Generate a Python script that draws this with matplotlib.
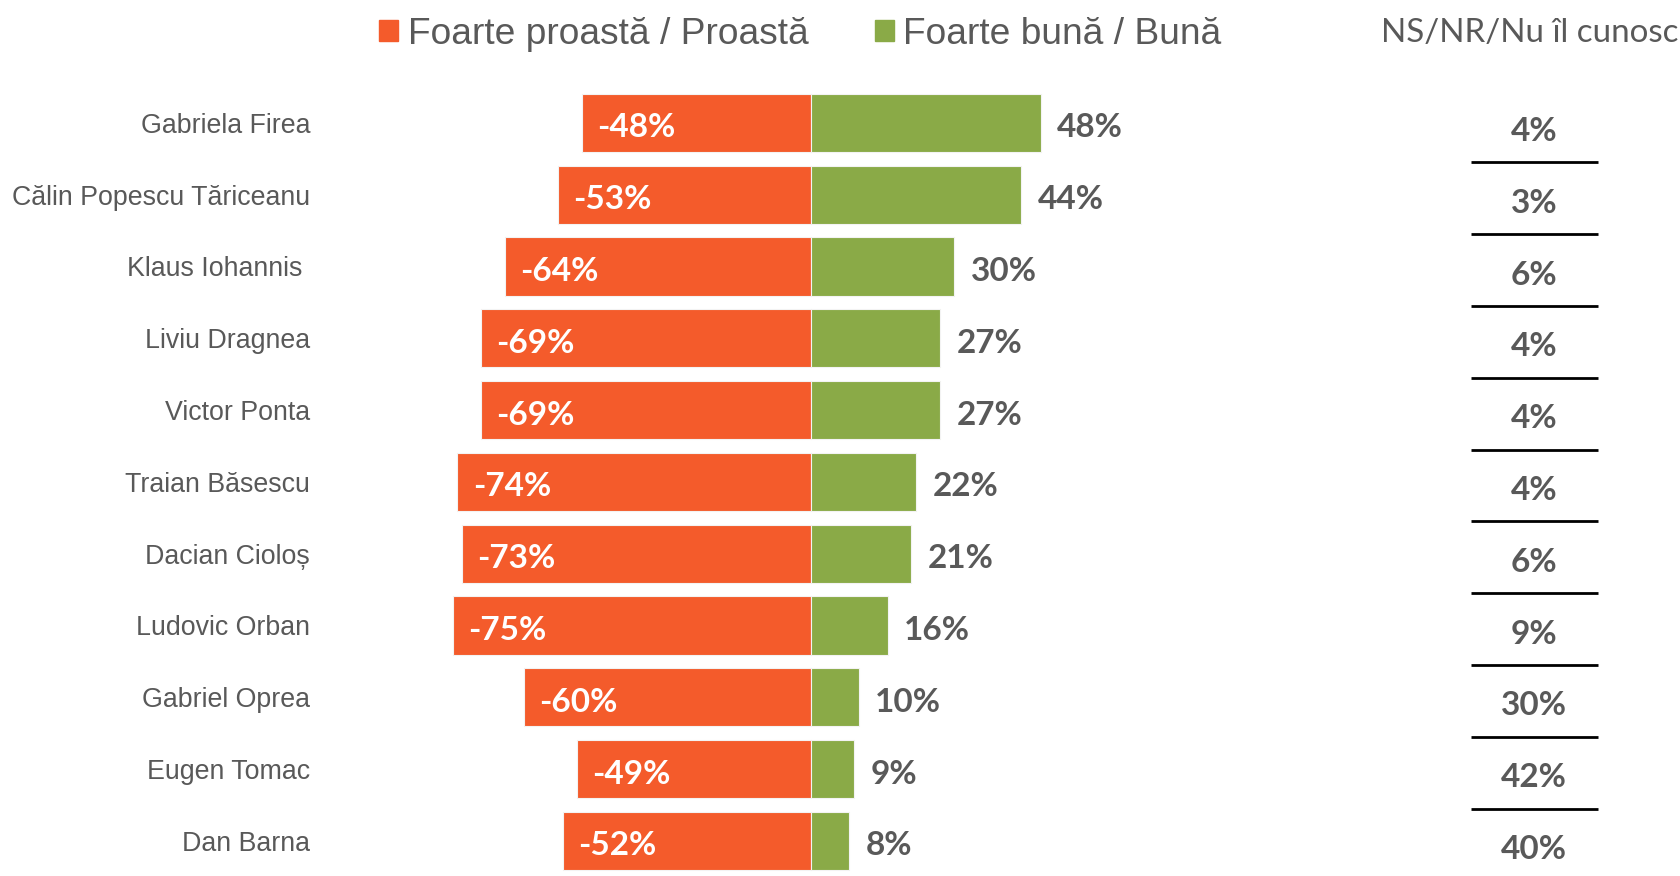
import matplotlib.pyplot as plt
from matplotlib.patches import Patch

names = ["Gabriela Firea", "Călin Popescu Tăriceanu", "Klaus Iohannis ", "Liviu Dragnea",
         "Victor Ponta", "Traian Băsescu", "Dacian Cioloș", "Ludovic Orban",
         "Gabriel Oprea", "Eugen Tomac", "Dan Barna"]
bad = [48, 53, 64, 69, 69, 74, 73, 75, 60, 49, 52]     # Foarte proastă / Proastă
good = [48, 44, 30, 27, 27, 22, 21, 16, 10, 9, 8]      # Foarte bună / Bună
ns = [4, 3, 6, 4, 4, 4, 6, 9, 30, 42, 40]              # NS/NR/Nu îl cunosc

orange = "#F45B2B"
green = "#8AAA47"
gray = "#595959"

fig = plt.figure(figsize=(16.81, 8.76), dpi=100)
ax = fig.add_axes([0, 0, 1, 1 - 87 / 876])

y = list(range(len(names)))
ax.barh(y, [-v for v in bad], height=0.81, color=orange, edgecolor="#f3f3f3", linewidth=0.8)
ax.barh(y, good, height=0.81, color=green, edgecolor="#f3f3f3", linewidth=0.8)

ax.set_xlim(-169.7, 182.0)
ax.set_ylim(10.49, -0.5)
ax.axis("off")

ytr = ax.get_yaxis_transform()
for i in y:
    # nume
    ax.text(0.1845, i + 0.04, names[i], transform=ytr, ha="right", va="center",
            fontsize=19.3, color=gray, family="Liberation Sans")
    # etichete bare
    ax.text(-bad[i] + 3.2, i + 0.07, f"-{bad[i]}%", ha="left", va="center",
            fontsize=24, fontweight="bold", color="white", family="Lato")
    ax.text(good[i] + 3.4, i + 0.07, f"{good[i]}%", ha="left", va="center",
            fontsize=24, fontweight="bold", color=gray, family="Lato")
    # coloana NS/NR
    ax.text(0.9125, i + 0.12, f"{ns[i]}%", transform=ytr, ha="center", va="center",
            fontsize=24, fontweight="bold", color=gray, family="Lato")
    if i < len(names) - 1:
        ax.hlines(i + 0.55, 0.875, 0.9506, transform=ytr, color="black", linewidth=2)

fig.text(1381 / 1681, 1 - 33 / 876, "NS/NR/Nu îl cunosc", ha="left", va="center",
         fontsize=23.9, color=gray, family="Lato")

handles = [Patch(color=orange), Patch(color=green)]
fig.legend(handles, ["Foarte proastă / Proastă", "Foarte bună / Bună"], ncol=2,
           loc="center left", bbox_to_anchor=(379.5 / 1681, 1 - 34 / 876),
           frameon=False, handlelength=0.5, handleheight=0.5,
           handletextpad=0.26, columnspacing=1.8, borderpad=0, borderaxespad=0,
           labelcolor=gray, prop={"family": "Liberation Sans", "size": 26.7})

fig.savefig("out.png")
